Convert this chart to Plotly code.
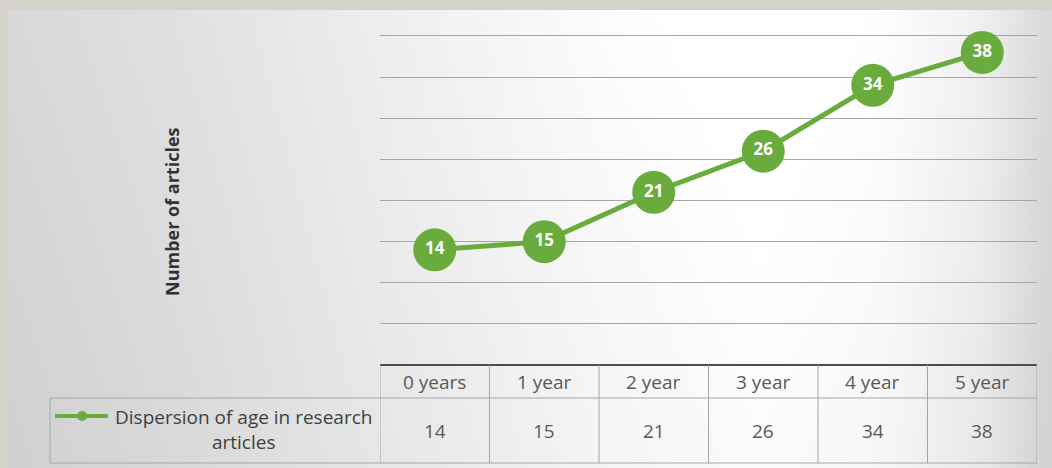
import numpy as np
import plotly.graph_objects as go

# ---- data ----
categories = ["0 years", "1 year", "2 year", "3 year", "4 year", "5 year"]
articles = [14, 15, 21, 26, 34, 38]
series_name = "Dispersion of age in research articles"
y_title = "Number of articles"

W, H = 1052, 468
GREEN = "#6aab3d"
FONT = "Open Sans"

# ---- chart-area background shading (left/right grey, light centre) ----
gx_stops = [8, 200, 380, 600, 760, 880, 980, 1052]
gx_vals = [212, 222, 234, 248, 255, 250, 236, 212]
nx, ny = 120, 24
cw = (W - 8) / nx
ch = (H - 10) / ny
xc = 8 + (np.arange(nx) + 0.5) * cw
yc = 10 + (np.arange(ny) + 0.5) * ch
row = np.interp(xc, gx_stops, gx_vals)
vert = np.interp(yc, [10, 468], [4, -4])
z = np.clip(row[None, :] + vert[:, None], 0, 255)

fig = go.Figure()
fig.add_trace(go.Heatmap(
    x=xc, y=yc, z=z, zmin=0, zmax=255, zsmooth="best",
    colorscale=[[0, "rgb(0,0,0)"], [1, "rgb(255,255,255)"]],
    showscale=False, hoverinfo="skip", xaxis="x", yaxis="y",
))

# ---- the series ----
fig.add_trace(go.Scatter(
    x=categories, y=articles, mode="lines+markers+text",
    line=dict(color=GREEN, width=5),
    marker=dict(color=GREEN, size=43, line=dict(width=0)),
    text=[str(v) for v in articles], textposition="middle center",
    textfont=dict(family=FONT, size=17, color="white", weight="bold"),
    xaxis="x2", yaxis="y2", hoverinfo="skip", cliponaxis=False,
))

# plot area geometry (pixels)
px0, px1 = 380, 1037
y_max = 40.5
py_bot = 365
px_per_unit = (365 - 36) / 40
py_top = py_bot - y_max * px_per_unit
row_split, tbl_bot = 398, 463
leg_left = 50

def py(v):
    return 1 - v / H

def pxf(v):
    return v / W

shapes = []
line_grey = dict(color="#a6a6a6", width=1)
# table horizontal rules
shapes.append(dict(type="line", xref="paper", yref="paper", x0=pxf(px0), x1=pxf(px1),
                   y0=py(py_bot), y1=py(py_bot), line=dict(color="#4d4d4d", width=2)))
shapes.append(dict(type="line", xref="paper", yref="paper", x0=pxf(leg_left), x1=pxf(px1),
                   y0=py(row_split), y1=py(row_split), line=line_grey))
shapes.append(dict(type="line", xref="paper", yref="paper", x0=pxf(leg_left), x1=pxf(px1),
                   y0=py(tbl_bot), y1=py(tbl_bot), line=line_grey))
shapes.append(dict(type="line", xref="paper", yref="paper", x0=pxf(leg_left), x1=pxf(leg_left),
                   y0=py(row_split), y1=py(tbl_bot), line=line_grey))
# column separators follow the category axis
for i in range(len(categories) + 1):
    shapes.append(dict(type="line", xref="x2", yref="paper", x0=i - 0.5, x1=i - 0.5,
                       y0=py(py_bot), y1=py(tbl_bot), line=line_grey))
# legend key inside the table
shapes.append(dict(type="line", xref="paper", yref="paper", x0=pxf(55), x1=pxf(108),
                   y0=py(416), y1=py(416), line=dict(color=GREEN, width=4)))
shapes.append(dict(type="circle", xref="paper", yref="paper", x0=pxf(77), x1=pxf(87),
                   y0=py(411), y1=py(421), fillcolor=GREEN, line=dict(width=0)))

annotations = []
for i, (c, v) in enumerate(zip(categories, articles)):
    annotations.append(dict(x=i, y=py((py_bot + row_split) / 2), xref="x2", yref="paper",
                            xanchor="center", yanchor="middle",
                            text=c, showarrow=False,
                            font=dict(family=FONT, size=19, color="#595959")))
    annotations.append(dict(x=i, y=py((row_split + tbl_bot) / 2), xref="x2", yref="paper",
                            xanchor="center", yanchor="middle",
                            text=str(v), showarrow=False,
                            font=dict(family=FONT, size=19, color="#595959")))
annotations.append(dict(x=pxf(243), y=py(429), xref="paper", yref="paper",
                        xanchor="center", yanchor="middle",
                        text="Dispersion of age in research<br>articles", showarrow=False,
                        align="center",
                        font=dict(family=FONT, size=19, color="#404040")))
annotations.append(dict(x=pxf(172), y=py(212), xref="paper", yref="paper",
                        xanchor="center", yanchor="middle",
                        text=y_title, textangle=-90, showarrow=False,
                        font=dict(family=FONT, size=18, color="#333333", weight="bold")))

fig.update_layout(
    width=W, height=H, margin=dict(l=0, r=0, t=0, b=0),
    paper_bgcolor="#d5d2cb", plot_bgcolor="rgba(0,0,0,0)",
    showlegend=False,
    xaxis=dict(domain=[0, 1], range=[0, W], visible=False, fixedrange=True),
    yaxis=dict(domain=[0, 1], range=[H, 0], visible=False, fixedrange=True),
    xaxis2=dict(domain=[pxf(px0), pxf(px1)], anchor="y2", type="category",
                range=[-0.5, len(categories) - 0.5], showgrid=False, showticklabels=False,
                ticks="", zeroline=False, showline=False),
    yaxis2=dict(domain=[py(py_bot), py(py_top)], anchor="x2", range=[0, y_max], dtick=5,
                showgrid=True, gridcolor="#a6a6a6", gridwidth=1, showticklabels=False,
                ticks="", zeroline=False, showline=False),
    shapes=shapes, annotations=annotations,
)

fig.write_html("out.html")
